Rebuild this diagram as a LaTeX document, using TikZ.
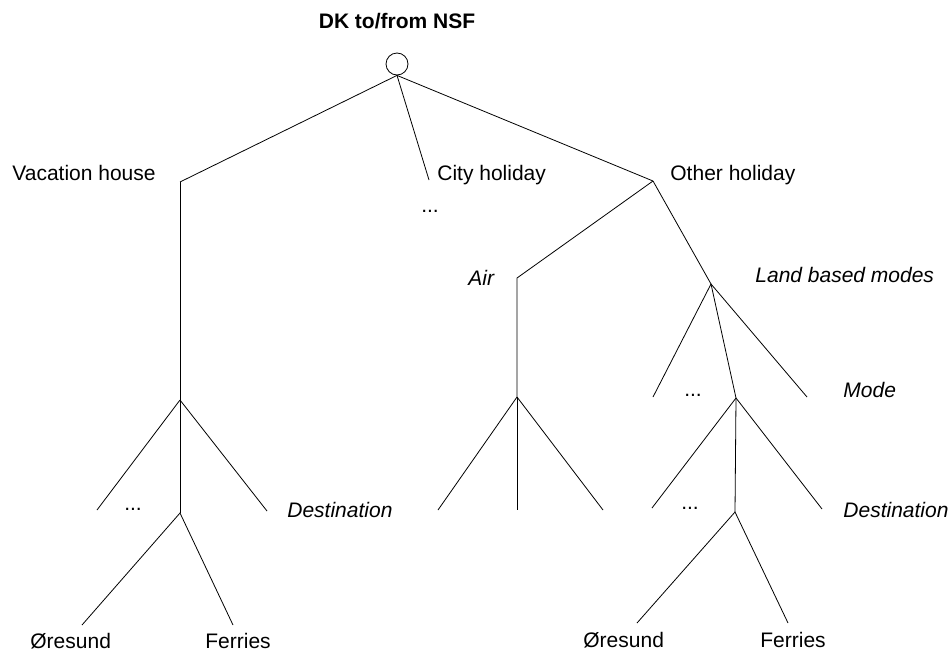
\documentclass[tikz,border=0pt]{standalone}
\usepackage{fontspec}
\setmainfont{Liberation Sans}
\begin{document}
\begin{tikzpicture}[x=1pt,y=-1pt,line width=0.8pt,
    lbl/.style={inner sep=0pt,font=\fontsize{21}{25}\selectfont},
    lvl/.style={inner sep=0pt,font=\fontsize{21}{25}\selectfont\itshape}]
\useasboundingbox (0,0) rectangle (949,653);
% root
\node[draw,circle,minimum size=22pt,inner sep=0pt] (root) at (397,64) {};
\node[inner sep=0pt,font=\fontsize{21}{25}\selectfont\bfseries,anchor=base] (title) at (397,28) {DK to/from NSF};
% junctions
\coordinate (vac) at (180,182);
\coordinate (city) at (429,180);
\coordinate (other) at (653,181);
\coordinate (vacd) at (180,400);
\coordinate (vacb) at (180,513);
\coordinate (air) at (517,278);
\coordinate (aird) at (517,397);
\coordinate (land) at (711,284);
\coordinate (mode) at (736,398);
\coordinate (modeb) at (735,512);
% free ends
\coordinate (vacl) at (97,510);   \coordinate (vacr) at (267,511);
\coordinate (vacbl) at (82,625);  \coordinate (vacbr) at (233,625);
\coordinate (airl) at (438,510);  \coordinate (airm) at (517,510);  \coordinate (airr) at (603,510);
\coordinate (landl) at (653,397); \coordinate (landr) at (807,397);
\coordinate (model) at (652,508); \coordinate (moder) at (822,509);
\coordinate (modebl) at (637,623); \coordinate (modebr) at (788,623);
% tree
\foreach \c in {vac,city,other}{
    \draw (root.south)--(\c);
}
\draw (vac)--(vacd);
\foreach \c in {vacl,vacb,vacr}{
    \draw (vacd)--(\c);
}
\draw (vacbl)--(vacb)--(vacbr);
\draw (other)--(air)--(aird);
\foreach \c in {airl,airm,airr}{
    \draw (aird)--(\c);
}
\draw (other)--(land);
\foreach \c in {landl,mode,landr}{
    \draw (land)--(\c);
}
\foreach \c in {model,modeb,moder}{
    \draw (mode)--(\c);
}
\draw (modebl)--(modeb)--(modebr);
% labels
\node[lbl,anchor=base west] (vaclbl) at (12,180) {Vacation house};
\node[lbl,anchor=base west] (citylbl) at (437,180) {City holiday};
\node[lbl,anchor=base] (citydots) at (430,212) {...};
\node[lbl,anchor=base west] (otherlbl) at (670,180) {Other holiday};
\node[lvl,anchor=base west] (airlbl) at (468,285) {Air};
\node[lvl,anchor=base west] (landlbl) at (755,282) {Land based modes};
\node[lbl,anchor=base] (landdots) at (693,396) {...};
\node[lvl,anchor=base west] (modelbl) at (843,397) {Mode};
\node[lbl,anchor=base] (vacdots) at (133,510) {...};
\node[lvl,anchor=base west] (destl) at (287,517) {Destination};
\node[lbl,anchor=base] (modedots) at (690,509) {...};
\node[lvl,anchor=base west] (destr) at (843,517) {Destination};
\node[lbl,anchor=base west] (oreL) at (30,648) {Øresund};
\node[lbl,anchor=base west] (ferL) at (205,648) {Ferries};
\node[lbl,anchor=base west] (oreR) at (583,647) {Øresund};
\node[lbl,anchor=base west] (ferR) at (760,647) {Ferries};
\end{tikzpicture}
\end{document}
